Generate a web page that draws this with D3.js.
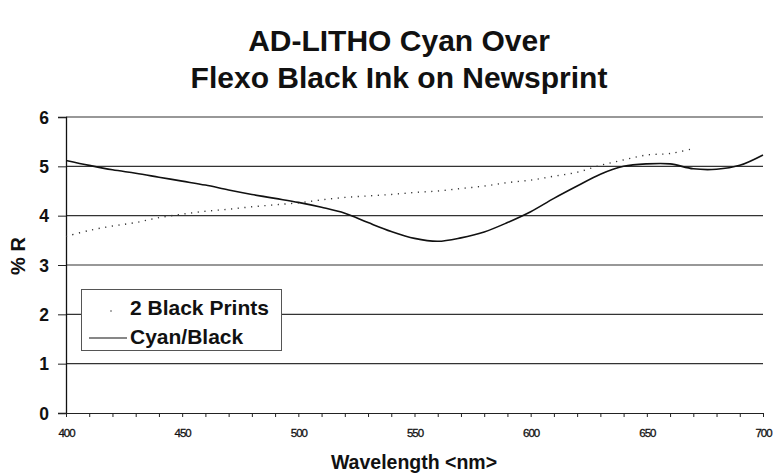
<!DOCTYPE html>
<html>
<head>
<meta charset="utf-8">
<script src="https://cdn.jsdelivr.net/npm/d3@7"></script>
<style>
  html, body { margin: 0; padding: 0; background: #fff; }
  svg { display: block; font-family: Arial, "Liberation Sans", sans-serif; }
</style>
</head>
<body>
<svg id="chart" width="773" height="474"></svg>
<script>
// Reflectance spectra, wavelength in nm, % R
const wavelengths = [400, 410, 420, 430, 440, 450, 460, 470, 480, 490, 500,
                     510, 520, 530, 540, 550, 560, 570, 580, 590, 600,
                     610, 620, 630, 640, 650, 660, 670, 680, 690, 700];
const cyanBlack = [5.12, 5.02, 4.93, 4.86, 4.78, 4.70, 4.62, 4.52, 4.43, 4.35, 4.27,
                   4.17, 4.05, 3.86, 3.68, 3.54, 3.48, 3.55, 3.67, 3.86, 4.08,
                   4.35, 4.60, 4.84, 5.00, 5.05, 5.05, 4.95, 4.94, 5.02, 5.23];
const blackPrintWavelengths = [400, 410, 420, 430, 440, 450, 460, 470, 480, 490, 500,
                               510, 520, 530, 540, 550, 560, 570, 580, 590, 600,
                               610, 620, 630, 640, 650, 660, 670];
const twoBlackPrints = [3.58, 3.70, 3.79, 3.86, 3.96, 4.03, 4.09, 4.13, 4.18, 4.22, 4.26,
                        4.32, 4.37, 4.40, 4.43, 4.47, 4.50, 4.55, 4.60, 4.67, 4.72,
                        4.80, 4.88, 5.02, 5.13, 5.23, 5.26, 5.36];
const yTicks = [0, 1, 2, 3, 4, 5, 6];
const xLabelTicks = [400, 450, 500, 550, 600, 650, 700];
const xMinorTicks = d3.range(400, 701, 10);
const titleLines = ["AD-LITHO Cyan Over", "Flexo Black Ink on Newsprint"];

const svg = d3.select("#chart");
const x = d3.scaleLinear().domain([400, 700]).range([66, 763]);
const y = d3.scaleLinear().domain([0, 6]).range([413, 117]);

// Title
svg.append("g").selectAll("text").data(titleLines).join("text")
  .attr("x", 399)
  .attr("y", (d, i) => 51 + i * 37)
  .attr("text-anchor", "middle")
  .attr("font-size", 30)
  .attr("font-weight", "bold")
  .attr("fill", "#111")
  .text(d => d);

// Horizontal gridlines
svg.append("g").selectAll("line").data(yTicks.filter(v => v > 0)).join("line")
  .attr("x1", x(400)).attr("x2", x(700))
  .attr("y1", d => y(d)).attr("y2", d => y(d))
  .attr("stroke", "#333").attr("stroke-width", 1.1);

// Y axis
const yAxis = svg.append("g")
  .attr("transform", `translate(${x(400)},0)`)
  .call(d3.axisLeft(y).tickValues(yTicks).tickSize(8).tickFormat(d3.format("d")));
yAxis.select(".domain").attr("stroke", "#111").attr("stroke-width", 1.3);
yAxis.selectAll(".tick line").attr("stroke", "#222");
yAxis.selectAll(".tick text")
  .attr("x", -17).attr("dy", "0.36em")
  .attr("font-size", 17.5).attr("font-weight", "bold")
  .attr("font-family", "Arial, 'Liberation Sans', sans-serif").attr("fill", "#111");

// X axis: minor ticks every 10 nm, labels every 50 nm
const xAxis = svg.append("g")
  .attr("transform", `translate(0,${y(0)})`)
  .call(d3.axisBottom(x).tickValues(xMinorTicks).tickSize(4).tickSizeOuter(0)
    .tickFormat(d => xLabelTicks.includes(d) ? d : ""));
xAxis.select(".domain").attr("stroke", "#222").attr("stroke-width", 1.1);
xAxis.selectAll(".tick line").attr("stroke", "#222");
xAxis.selectAll(".tick text")
  .attr("y", 16).attr("font-size", 11.5).attr("letter-spacing", -1)
  .attr("font-family", "Arial, 'Liberation Sans', sans-serif")
  .attr("fill", "#111").attr("stroke", "#111").attr("stroke-width", 0.3);

// Axis titles
svg.append("text")
  .attr("transform", `translate(25,256) rotate(-90)`)
  .attr("text-anchor", "middle")
  .attr("font-size", 20).attr("font-weight", "bold").attr("fill", "#111")
  .text("% R");
svg.append("text")
  .attr("x", 414).attr("y", 469)
  .attr("text-anchor", "middle")
  .attr("font-size", 19.5).attr("font-weight", "bold").attr("fill", "#111")
  .text("Wavelength <nm>");

// Series
const cyanData = wavelengths.map((w, i) => [w, cyanBlack[i]]);
const blackData = blackPrintWavelengths.map((w, i) => [w, twoBlackPrints[i]]);
const line = d3.line().x(d => x(d[0])).y(d => y(d[1])).curve(d3.curveCatmullRom.alpha(0.5));

svg.append("path").datum(blackData)
  .attr("d", line).attr("fill", "none")
  .attr("stroke", "#333").attr("stroke-width", 1.4)
  .attr("stroke-dasharray", "1.2,5.5");

svg.append("path").datum(cyanData)
  .attr("d", line).attr("fill", "none")
  .attr("stroke", "#111").attr("stroke-width", 1.6);

// Legend
const legend = svg.append("g");
legend.append("rect")
  .attr("x", 81.5).attr("y", 289.5).attr("width", 200).attr("height", 61)
  .attr("fill", "#fff").attr("stroke", "#555").attr("stroke-width", 1);
legend.append("circle").attr("cx", 111).attr("cy", 311).attr("r", 0.8).attr("fill", "#444");
legend.append("line").attr("x1", 89).attr("x2", 127).attr("y1", 338).attr("y2", 338)
  .attr("stroke", "#111").attr("stroke-width", 1.2);
legend.append("text").attr("x", 130).attr("y", 315)
  .attr("font-size", 21).attr("font-weight", "bold").attr("fill", "#111")
  .text("2 Black Prints");
legend.append("text").attr("x", 130).attr("y", 344)
  .attr("font-size", 21).attr("font-weight", "bold").attr("fill", "#111")
  .text("Cyan/Black");
</script>
</body>
</html>
